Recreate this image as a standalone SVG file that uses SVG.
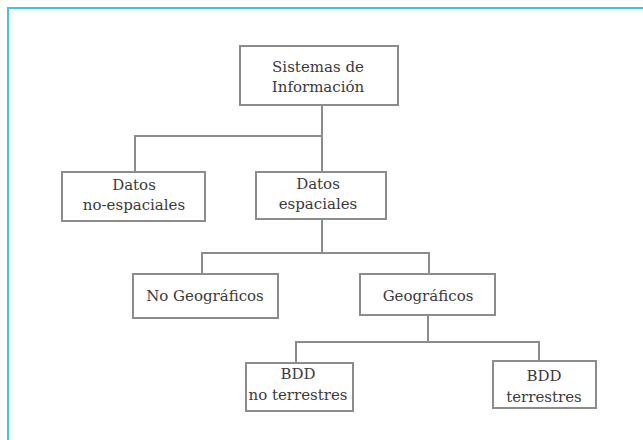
<svg xmlns="http://www.w3.org/2000/svg" width="643" height="440" viewBox="0 0 643 440">
<style>
.bg{fill:#ffffff}
.frame{fill:none;stroke:#3cc4ee;stroke-width:2}
.box{fill:#ffffff;stroke:#8c8c8c;stroke-width:2}
.conn{fill:none;stroke:#8c8c8c;stroke-width:2}
.t{font-family:'DejaVu Serif',serif;font-size:15px;fill:#3a3a3a;text-anchor:middle}
</style>
<rect class="bg" x="0" y="0" width="643" height="440"/>
<path class="frame" d="M8,441 V8 H644"/>
<g id="connectors">
<path class="conn" d="M322,105 V172"/>
<path class="conn" d="M135,172 V136 H322"/>
<path class="conn" d="M322,219 V253"/>
<path class="conn" d="M202,274 V253 H429 V274"/>
<path class="conn" d="M428,315 V342"/>
<path class="conn" d="M296,363 V342 H539 V361"/>
</g>
<g id="sistemas">
<rect class="box" x="240" y="46" width="158" height="59"/>
<text class="t" x="318" y="72">Sistemas de</text>
<text class="t" x="318" y="92">Información</text>
</g>
<g id="no-espaciales">
<rect class="box" x="62" y="172" width="143" height="49"/>
<text class="t" x="134" y="190">Datos</text>
<text class="t" x="134" y="210">no-espaciales</text>
</g>
<g id="espaciales">
<rect class="box" x="256" y="172" width="130" height="47"/>
<text class="t" x="318" y="189">Datos</text>
<text class="t" x="318" y="209">espaciales</text>
</g>
<g id="no-geograficos">
<rect class="box" x="133" y="274" width="145" height="44"/>
<text class="t" x="205" y="301">No Geográficos</text>
</g>
<g id="geograficos">
<rect class="box" x="360" y="274" width="135" height="41"/>
<text class="t" x="428" y="301">Geográficos</text>
</g>
<g id="bdd-no-terrestres">
<rect class="box" x="246" y="363" width="107" height="48"/>
<text class="t" x="298" y="379">BDD</text>
<text class="t" x="298" y="400">no terrestres</text>
</g>
<g id="bdd-terrestres">
<rect class="box" x="493" y="361" width="103" height="47"/>
<text class="t" x="544" y="381">BDD</text>
<text class="t" x="544" y="402">terrestres</text>
</g>
</svg>
